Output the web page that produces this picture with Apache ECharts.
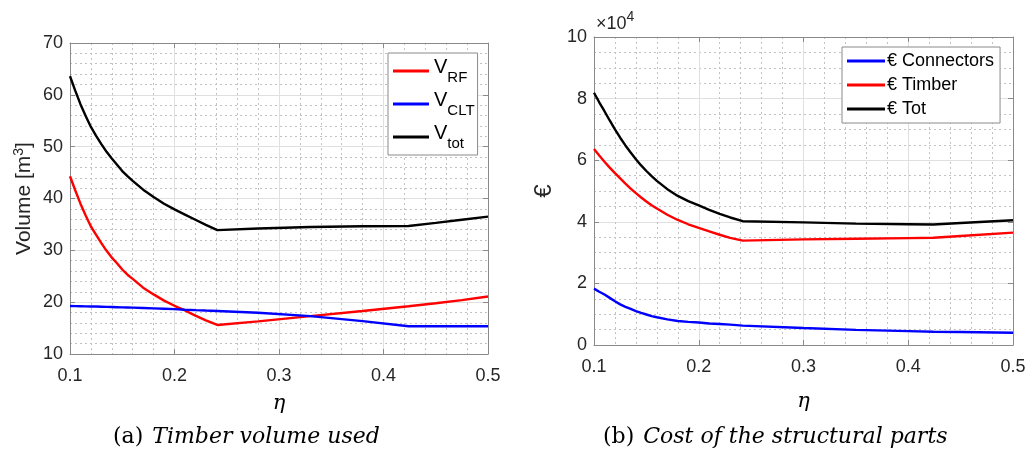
<!DOCTYPE html>
<html>
<head>
<meta charset="utf-8">
<script src="https://cdn.jsdelivr.net/npm/echarts@6/dist/echarts.min.js"></script>
<style>
html,body{margin:0;padding:0;background:#fff;}
#c{width:1031px;height:455px;}
</style>
</head>
<body>
<div id="c"></div>
<script>
// ---- Data (a) Timber volume used ----
const etaA = [0.1,0.105,0.11,0.115,0.12,0.125,0.13,0.135,0.14,0.145,0.15,0.155,0.16,0.17,0.18,0.19,0.2,0.21,0.22,0.23,0.241,0.28,0.33,0.38,0.424,0.45,0.475,0.5];
const vRF  = [44.3,41.6,39.0,36.7,34.6,33.0,31.4,29.9,28.6,27.5,26.3,25.3,24.5,22.8,21.5,20.3,19.3,18.4,17.4,16.5,15.6,16.3,17.3,18.3,19.2,19.8,20.4,21.1];
const vCLT = [19.25,19.23,19.21,19.19,19.17,19.15,19.12,19.09,19.06,19.03,19.0,18.97,18.94,18.87,18.8,18.73,18.65,18.55,18.46,18.38,18.3,17.95,17.3,16.35,15.35,15.35,15.35,15.35];
const vTot = [63.6,60.8,58.2,55.9,53.8,52.1,50.5,49.0,47.7,46.5,45.3,44.3,43.4,41.7,40.3,39.0,37.9,36.9,35.9,34.9,33.9,34.2,34.5,34.65,34.7,35.3,35.9,36.5];

// ---- Data (b) Cost of the structural parts (EUR) ----
const etaB = [0.1,0.105,0.11,0.115,0.12,0.125,0.13,0.135,0.14,0.145,0.15,0.155,0.16,0.17,0.18,0.19,0.2,0.21,0.22,0.23,0.242,0.3,0.35,0.4,0.424,0.45,0.5];
const costConn   = [18300,17300,16400,15300,14200,13200,12400,11700,11000,10400,9900,9400,9000,8300,7800,7500,7300,7000,6800,6600,6300,5500,4900,4500,4300,4200,4000];
const costTimber = [63600,61500,59500,57600,55800,54100,52400,50800,49300,47900,46600,45400,44300,42300,40600,39200,38000,36900,35800,34800,33900,34300,34500,34700,34800,35400,36500];
const costTot    = [81900,78800,75900,72900,70000,67300,64800,62500,60300,58300,56500,54800,53300,50600,48400,46700,45300,43900,42600,41400,40200,39800,39400,39200,39100,39600,40500];

const xTicks = [0.1,0.2,0.3,0.4,0.5];
const captionA = ['(a)', 'Timber volume used'];
const captionB = ['(b)', 'Cost of the structural parts'];

const pair = (xs, ys) => xs.map((x, i) => [x, ys[i]]);

const FONT = 'Liberation Sans';
const AX = '#8a8a8a';
const LBL = '#262626';
const MAJ = '#e0e0e0';
const MIN = '#c2c2c2';

function mainX(grid, nameGap) {
  return {
    type: 'value', gridIndex: grid, min: 0.1, max: 0.5, interval: 0.1, position: 'bottom',
    axisLine: {show: true, onZero: false, lineStyle: {color: AX, width: 1}},
    axisTick: {show: true, inside: true, length: 5, lineStyle: {color: AX}},
    axisLabel: {color: LBL, fontFamily: FONT, fontSize: 18, margin: 13,
      formatter: v => String(Math.round(v * 10) / 10)},
    splitLine: {show: true, lineStyle: {color: MAJ, width: 1}},
    minorTick: {show: true, splitNumber: 5, length: 0},
    minorSplitLine: {show: true, lineStyle: {color: MIN, width: 1, type: [2, 3]}},
    name: 'η', nameLocation: 'middle', nameGap: nameGap,
    nameTextStyle: {fontFamily: 'DejaVu Serif', fontStyle: 'italic', fontSize: 21, color: '#000'}
  };
}
function boxX(grid) {
  return {
    type: 'value', gridIndex: grid, min: 0.1, max: 0.5, interval: 0.1, position: 'top',
    axisLine: {show: true, onZero: false, lineStyle: {color: AX, width: 1}},
    axisTick: {show: true, inside: true, length: 5, lineStyle: {color: AX}},
    axisLabel: {show: false}, splitLine: {show: false}
  };
}
function boxY(grid, min, max, interval) {
  return {
    type: 'value', gridIndex: grid, min: min, max: max, interval: interval, position: 'right',
    axisLine: {show: true, onZero: false, lineStyle: {color: AX, width: 1}},
    axisTick: {show: true, inside: true, length: 5, lineStyle: {color: AX}},
    axisLabel: {show: false}, splitLine: {show: false}
  };
}

const capRich = {
  n: {fontFamily: 'DejaVu Serif', fontSize: 22, fill: '#000', padding: [0, 9, 0, 0]},
  i: {fontFamily: 'DejaVu Serif', fontStyle: 'italic', fontSize: 22, fill: '#000'}
};

const option = {
  animation: false,
  backgroundColor: '#fff',
  grid: [
    {left: 70, right: 543, top: 43, bottom: 101, show: false},
    {left: 594, right: 18, top: 37, bottom: 110, show: false}
  ],
  xAxis: [mainX(0, 39), mainX(1, 46), boxX(0), boxX(1)],
  yAxis: [
    {
      type: 'value', gridIndex: 0, min: 10, max: 70, interval: 10, position: 'left',
      axisLine: {show: true, onZero: false, lineStyle: {color: AX, width: 1}},
      axisTick: {show: true, inside: true, length: 5, lineStyle: {color: AX}},
      axisLabel: {color: LBL, fontFamily: FONT, fontSize: 18, margin: 7},
      splitLine: {show: true, lineStyle: {color: MAJ, width: 1}},
      minorTick: {show: true, splitNumber: 5, length: 0},
      minorSplitLine: {show: true, lineStyle: {color: MIN, width: 1, type: [2, 3]}},
      name: '{a|Volume [m}{s|3}{a|]}', nameLocation: 'middle', nameGap: 35, nameRotate: 90,
      nameTextStyle: {rich: {
        a: {fontFamily: FONT, fontSize: 21, color: LBL, verticalAlign: 'bottom'},
        s: {fontFamily: FONT, fontSize: 14, color: LBL, verticalAlign: 'bottom', padding: [0,0,9,0]}
      }}
    },
    {
      type: 'value', gridIndex: 1, min: 0, max: 100000, interval: 20000, position: 'left',
      axisLine: {show: true, onZero: false, lineStyle: {color: AX, width: 1}},
      axisTick: {show: true, inside: true, length: 5, lineStyle: {color: AX}},
      axisLabel: {color: LBL, fontFamily: FONT, fontSize: 18, margin: 7, formatter: v => String(v / 10000)},
      splitLine: {show: true, lineStyle: {color: MAJ, width: 1}},
      minorTick: {show: true, splitNumber: 4, length: 0},
      minorSplitLine: {show: true, lineStyle: {color: MIN, width: 1, type: [2, 3]}},
      name: '€', nameLocation: 'middle', nameGap: 38, nameRotate: 90,
      nameTextStyle: {fontFamily: FONT, fontSize: 24, color: LBL}
    },
    boxY(0, 10, 70, 10),
    boxY(1, 0, 100000, 20000)
  ],
  legend: [
    {
      left: 388, top: 53, orient: 'vertical', padding: [4, 3, 4, 5], itemGap: 5,
      itemWidth: 36, itemHeight: 3, icon: 'rect',
      backgroundColor: '#fff', borderColor: AX, borderWidth: 1, borderRadius: 0,
      data: ['RF', 'CLT', 'tot'],
      formatter: n => '{v|V}{s|' + n + '}',
      textStyle: {rich: {
        v: {fontFamily: FONT, fontSize: 20, color: '#000', verticalAlign: 'bottom', padding: [0,0,8,0]},
        s: {fontFamily: FONT, fontSize: 15, color: '#000', verticalAlign: 'bottom'}
      }}
    },
    {
      left: 842, top: 47, orient: 'vertical', padding: [5, 6, 5, 5], itemGap: 6,
      itemWidth: 38, itemHeight: 3, icon: 'rect',
      backgroundColor: '#fff', borderColor: AX, borderWidth: 1, borderRadius: 0,
      data: ['€ Connectors', '€ Timber', '€ Tot'],
      textStyle: {fontFamily: FONT, fontSize: 18, color: '#000', padding: [0, 0, 0, -3]}
    }
  ],
  graphic: [
    {type: 'text', left: 596, top: 10, style: {
      text: '{a|×10}{b|4}',
      rich: {
        a: {fontFamily: FONT, fontSize: 18, fill: LBL, verticalAlign: 'bottom'},
        b: {fontFamily: FONT, fontSize: 14, fill: LBL, verticalAlign: 'bottom', padding: [0,0,9,0]}
      }
    }},
    {type: 'text', left: 113, top: 426, style: {
      text: '{n|' + captionA[0] + '}{i|' + captionA[1] + '}', rich: capRich
    }},
    {type: 'text', left: 603, top: 426, style: {
      text: '{n|' + captionB[0] + '}{i|' + captionB[1] + '}', rich: capRich
    }}
  ],
  series: [
    {name: 'RF', type: 'line', xAxisIndex: 0, yAxisIndex: 0, data: pair(etaA, vRF), symbol: 'none',
      lineStyle: {color: '#ff0000', width: 2.4}, itemStyle: {color: '#ff0000'}},
    {name: 'CLT', type: 'line', xAxisIndex: 0, yAxisIndex: 0, data: pair(etaA, vCLT), symbol: 'none',
      lineStyle: {color: '#0000ff', width: 2.4}, itemStyle: {color: '#0000ff'}},
    {name: 'tot', type: 'line', xAxisIndex: 0, yAxisIndex: 0, data: pair(etaA, vTot), symbol: 'none',
      lineStyle: {color: '#000000', width: 2.4}, itemStyle: {color: '#000000'}},
    {name: '€ Connectors', type: 'line', xAxisIndex: 1, yAxisIndex: 1, data: pair(etaB, costConn), symbol: 'none',
      lineStyle: {color: '#0000ff', width: 2.4}, itemStyle: {color: '#0000ff'}},
    {name: '€ Timber', type: 'line', xAxisIndex: 1, yAxisIndex: 1, data: pair(etaB, costTimber), symbol: 'none',
      lineStyle: {color: '#ff0000', width: 2.4}, itemStyle: {color: '#ff0000'}},
    {name: '€ Tot', type: 'line', xAxisIndex: 1, yAxisIndex: 1, data: pair(etaB, costTot), symbol: 'none',
      lineStyle: {color: '#000000', width: 2.4}, itemStyle: {color: '#000000'}}
  ]
};
const chart = echarts.init(document.getElementById('c'), null, {renderer: 'canvas'});
chart.setOption(option);
</script>
</body>
</html>
